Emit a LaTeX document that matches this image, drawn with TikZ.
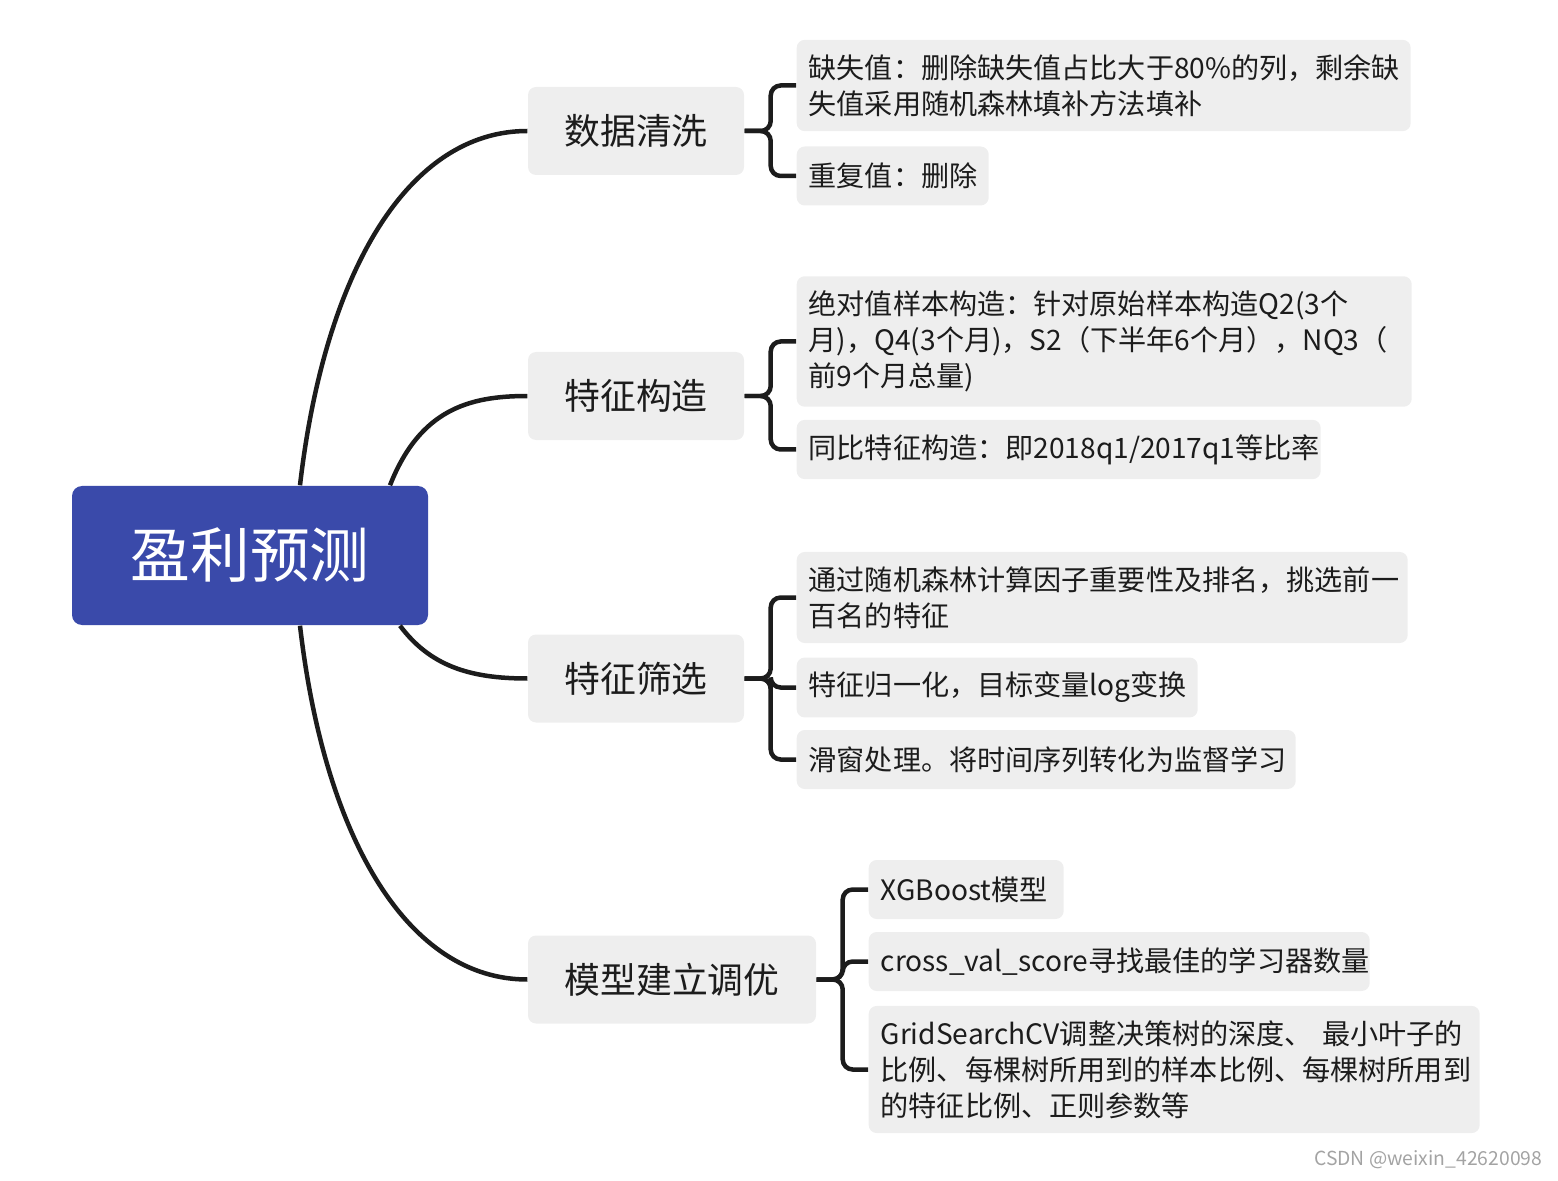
\documentclass[tikz,border=0pt]{standalone}
\usepackage{fontspec}
\setmainfont{Noto Sans CJK SC}
\usetikzlibrary{calc}
\definecolor{rootblue}{HTML}{3A4AAA}
\definecolor{boxgray}{HTML}{EEEEEE}
\definecolor{inkdark}{HTML}{1C1C1C}
\definecolor{wmgray}{HTML}{A3A3A3}

\begin{document}
\begin{tikzpicture}[
    topic/.style={fill=rootblue, rounded corners=0.1cm, minimum width=3.56cm, minimum height=1.39cm, text=white, font=\fontsize{17}{20}\selectfont},
    branch/.style={fill=boxgray, rounded corners=0.08cm, minimum height=0.88cm, text=inkdark, font=\fontsize{10.2}{12}\selectfont},
    leaf/.style={fill=boxgray, rounded corners=0.08cm, anchor=west, align=left, inner xsep=0.12cm, inner ysep=0.145cm, minimum height=0.59cm, text=inkdark, font=\fontsize{8}{10.25}\selectfont},
    link/.style={line width=0.045cm, draw=inkdark},
    fork/.style={link, rounded corners=0.1cm},
    credit/.style={anchor=east, inner sep=0pt, text=wmgray, font=\fontsize{5.5}{6}\selectfont}
]
\useasboundingbox (0,0) rectangle (15.58,-11.81);

\node[topic] (root) at (2.50,-5.555) {盈利预测};

\node[branch, minimum width=2.16cm] (clean) at (6.36,-1.31) {数据清洗};
\node[branch, minimum width=2.16cm] (build) at (6.36,-3.96) {特征构造};
\node[branch, minimum width=2.16cm] (select) at (6.36,-6.785) {特征筛选};
\node[branch, minimum width=2.88cm] (model) at (6.72,-9.795) {模型建立调优};

\node[leaf, text width=5.90cm] (miss) at (7.96,-0.855) {缺失值：删除缺失值占比大于80\%的列，剩余缺\\失值采用随机森林填补方法填补};
\node[leaf, text width=1.68cm] (dup) at (7.96,-1.76) {重复值：删除};
\node[leaf, text width=5.91cm] (absv) at (7.96,-3.415) {绝对值样本构造：针对原始样本构造Q2(3个\\月)，Q4(3个月)，S2（下半年6个月），NQ3（\\前9个月总量)};
\node[leaf, text width=5.00cm] (yoy) at (7.96,-4.495) {同比特征构造：即2018q1/2017q1等比率};
\node[leaf, text width=5.87cm] (rank) at (7.96,-5.975) {通过随机森林计算因子重要性及排名，挑选前一\\百名的特征};
\node[leaf, text width=3.77cm] (norm) at (7.96,-6.875) {特征归一化，目标变量log变换};
\node[leaf, text width=4.75cm] (slide) at (7.96,-7.595) {滑窗处理。将时间序列转化为监督学习};
\node[leaf, text width=1.71cm] (xgb) at (8.68,-8.895) {XGBoost模型};
\node[leaf, text width=4.77cm] (cvs) at (8.68,-9.615) {cross\_val\_score寻找最佳的学习器数量};
\node[leaf, text width=5.87cm] (grid) at (8.68,-10.695) {GridSearchCV调整决策树的深度、 最小叶子的\\比例、每棵树所用到的样本比例、每棵树所用到\\的特征比例、正则参数等};

\draw[link] ($(root.north)+(0.5,0)$) .. controls +(0.25,2.16) and +(-1.18,0) .. (clean.west);
\draw[link] ($(root.north)+(1.4,0)$) .. controls +(0.3,0.76) and +(-0.58,0) .. (build.west);
\draw[link] ($(root.south)+(1.5,0)$) .. controls +(0.3,-0.4) and +(-0.58,0) .. (select.west);
\draw[link] ($(root.south)+(0.5,0)$) .. controls +(0.25,-2.16) and +(-1.18,0) .. (model.west);

\draw[fork] (clean.east) -- ++(0.26,0) |- (miss.west);
\draw[fork] (clean.east) -- ++(0.26,0) |- (dup.west);
\draw[fork] (build.east) -- ++(0.26,0) |- (absv.west);
\draw[fork] (build.east) -- ++(0.26,0) |- (yoy.west);
\draw[fork] (select.east) -- ++(0.26,0) |- (rank.west);
\draw[fork] (select.east) -- ++(0.26,0) |- (norm.west);
\draw[fork] (select.east) -- ++(0.26,0) |- (slide.west);
\draw[fork] (model.east) -- ++(0.26,0) |- (xgb.west);
\draw[fork] (model.east) -- ++(0.26,0) |- (cvs.west);
\draw[fork] (model.east) -- ++(0.26,0) |- (grid.west);

\node[credit] (wm) at (15.43,-11.60) {CSDN @weixin\_42620098};
\end{tikzpicture}
\end{document}
